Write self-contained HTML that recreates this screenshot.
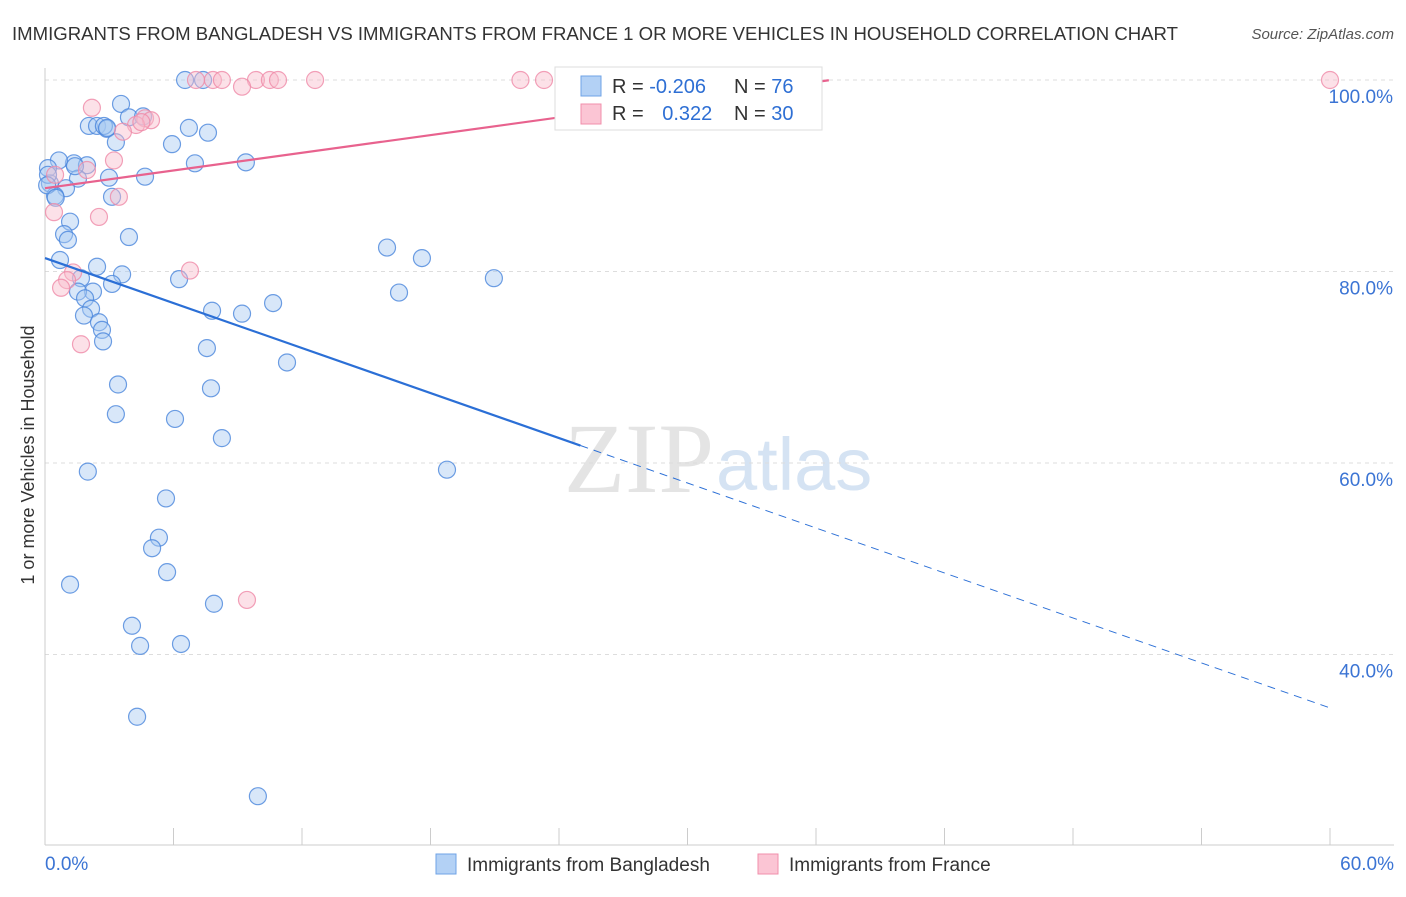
<!DOCTYPE html>
<html><head><meta charset="utf-8"><style>
body{margin:0;background:#fff;font-family:"Liberation Sans",sans-serif;}
</style></head><body>
<svg id="chart" width="1406" height="892" xmlns="http://www.w3.org/2000/svg">
<text x="12" y="40" font-size="18.5" fill="#333" textLength="1166" lengthAdjust="spacingAndGlyphs">IMMIGRANTS FROM BANGLADESH VS IMMIGRANTS FROM FRANCE 1 OR MORE VEHICLES IN HOUSEHOLD CORRELATION CHART</text>
<text x="1394" y="39" font-size="15" fill="#555" font-style="italic" text-anchor="end">Source: ZipAtlas.com</text>
<text x="714" y="492" font-size="100" fill="#e4e4e4" text-anchor="end" font-family="Liberation Serif">ZIP</text>
<text x="716" y="490" font-size="74" fill="#d5e3f3">atlas</text>
<text transform="translate(34,455) rotate(-90)" font-size="18" fill="#333" text-anchor="middle">1 or more Vehicles in Household</text>
<g id="grid"></g><g id="marks"></g>
<g>
<rect x="555" y="67" width="267" height="63" fill="#fff" stroke="#ddd"/>
<rect x="581" y="76" width="20" height="20" fill="#b3d1f5" stroke="#6fa3e6"/>
<rect x="581" y="104" width="20" height="20" fill="#fbc5d4" stroke="#f08fab"/>
<text x="612" y="93" font-size="20" fill="#333">R = <tspan fill="#2e6fd4">-0.206</tspan></text>
<text x="734" y="93" font-size="20" fill="#333">N = <tspan fill="#2e6fd4">76</tspan></text>
<text x="612" y="120" font-size="20" fill="#333">R = <tspan fill="#2e6fd4" dx="13">0.322</tspan></text>
<text x="734" y="120" font-size="20" fill="#333">N = <tspan fill="#2e6fd4">30</tspan></text>
</g>
<g>
<rect x="436" y="854" width="20" height="20" fill="#b3d1f5" stroke="#6fa3e6"/>
<text x="467" y="871" font-size="19" fill="#333">Immigrants from Bangladesh</text>
<rect x="758" y="854" width="20" height="20" fill="#fbc5d4" stroke="#f08fab"/>
<text x="789" y="871" font-size="19" fill="#333">Immigrants from France</text>
</g>
</svg>
<script>
const xTicks=[0,6,12,18,24,30,36,42,48,54,60];
const yTicks=[40,60,80,100];
const yTickLabels=["40.0%","60.0%","80.0%","100.0%"];
const blueX=[6.54,7.38,3.55,3.92,4.58,2.05,2.43,2.89,2.75,6.72,7.61,3.31,5.93,1.35,1.96,0.65,0.14,7.0,9.38,4.67,1.54,2.99,0.23,0.98,0.47,3.13,1.17,0.89,1.07,3.92,15.97,17.6,0.70,2.43,3.6,6.26,20.96,1.68,3.13,2.24,1.54,1.87,16.53,10.65,2.15,1.82,7.8,9.2,2.52,2.66,2.71,7.56,11.3,3.41,7.75,3.31,6.07,8.26,2.0,18.77,5.65,5.32,5.0,5.7,1.17,7.89,4.06,4.44,6.35,4.3,9.94,0.14,0.1,0.5,1.4,2.9];
const blueY=[100,100,97.5,96.1,96.2,95.2,95.2,94.9,95.2,95.0,94.5,93.5,93.3,91.3,91.1,91.6,90.8,91.3,91.4,89.9,89.7,89.8,89.2,88.7,87.9,87.8,85.2,83.9,83.3,83.6,82.5,81.4,81.2,80.5,79.7,79.2,79.3,79.3,78.7,77.9,77.9,77.2,77.8,76.7,76.1,75.4,75.9,75.6,74.7,73.9,72.7,72.0,70.5,68.2,67.8,65.1,64.6,62.6,59.1,59.3,56.3,52.2,51.1,48.6,47.3,45.3,43.0,40.9,41.1,33.5,25.2,90.1,89.0,87.7,91.0,95.0];
const pinkX=[7.05,7.84,8.26,9.85,10.5,10.88,12.61,22.2,23.3,31.2,60,9.2,2.19,4.67,4.95,4.25,3.64,3.22,1.96,0.47,3.45,0.42,2.52,6.77,1.31,1.03,0.75,1.68,9.43,4.5];
const pinkY=[100,100,100,100,100,100,100,100,100,100,100,99.3,97.1,96.0,95.8,95.3,94.6,91.6,90.6,90.1,87.8,86.2,85.7,80.1,79.9,79.1,78.3,72.4,45.7,95.6];
const blueTrend=[81.4,-0.783,25];
const pinkTrend=[88.7,0.308,36.6];
const NS="http://www.w3.org/2000/svg";
const X=v=>45+v/60*1285, Y=v=>80+(100-v)/20*191.5;
function mk(t,a,p){const e=document.createElementNS(NS,t);for(const k in a)e.setAttribute(k,a[k]);p.appendChild(e);return e;}
const g=document.getElementById('grid'),m=document.getElementById('marks');
yTicks.forEach((t,i)=>{
 const l=mk('line',{x1:45,x2:1394,y1:Y(t),y2:Y(t),stroke:'#ddd','stroke-dasharray':'4,4'},g);
 
 
 const tx=mk('text',{x:1393,y:Y(t)+23,'font-size':19,fill:'#3b74d4','text-anchor':'end'},g);
 tx.textContent=yTickLabels[i];
 
 
});
const ax=mk('line',{x1:45,x2:1394,y1:845,y2:845,stroke:'#ccc'},g);


const ay=mk('line',{x1:45,x2:45,y1:68,y2:845,stroke:'#ccc'},g);


xTicks.forEach(v=>{
 const tk=mk('line',{x1:X(v),x2:X(v),y1:828,y2:845,stroke:'#ccc'},g);
 
 
});
[[0,"0.0%","start",45],[60,"60.0%","end",1394]].forEach(a=>{
 const t=mk('text',{x:a[3],y:870,'font-size':19,fill:'#3b74d4','text-anchor':a[2]},g);
 t.textContent=a[1];
 
 
});
function dots(xs,ys,fill,stroke,name){xs.forEach((x,i)=>{
 const c=mk('circle',{cx:X(x),cy:Y(ys[i]),r:8.5,fill:fill,'fill-opacity':0.45,stroke:stroke,'stroke-opacity':0.8,'stroke-width':1.2},m);
 
 
});}
dots(blueX,blueY,'#a9c9f2','#4a86dc','bangladesh-point');
dots(pinkX,pinkY,'#f9bccd','#ef8aa8','france-point');
function trend(tr,col,name){const [b,s,end]=tr;
 const l1=mk('line',{x1:X(0),y1:Y(b),x2:X(end),y2:Y(b+s*end),stroke:col,'stroke-width':2.2},m);
 
 
 if(end<60){const l2=mk('line',{x1:X(end),y1:Y(b+s*end),x2:X(60),y2:Y(b+s*60),stroke:col,'stroke-width':1,'stroke-dasharray':'8,6'},m);
 
 }
}
trend(blueTrend,'#2b6fd6','bangladesh-trendline');
const pl=mk('line',{x1:X(0),y1:Y(pinkTrend[0]),x2:X(pinkTrend[2]),y2:Y(pinkTrend[0]+pinkTrend[1]*pinkTrend[2]),stroke:'#e8628e','stroke-width':2.2},m);


</script>
</body></html>
